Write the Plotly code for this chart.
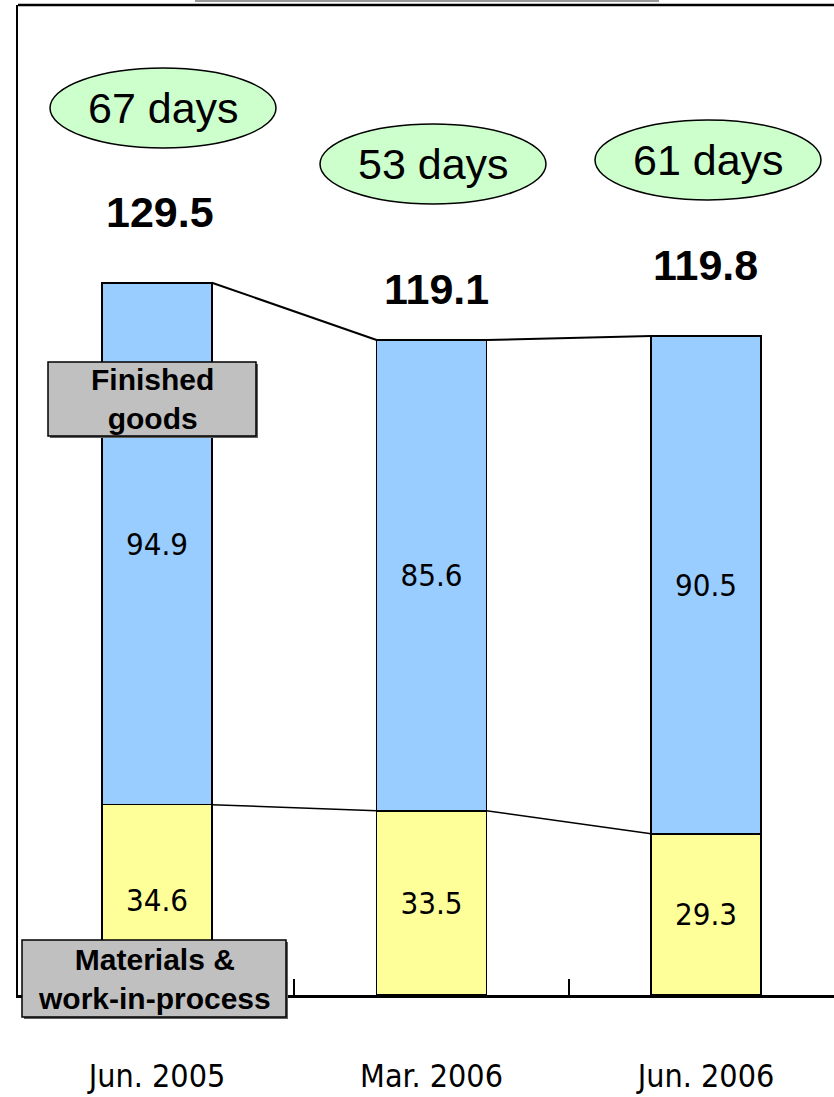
import plotly.graph_objects as go

# ---- data ----
categories = ["Jun. 2005", "Mar. 2006", "Jun. 2006"]
materials_wip = [34.6, 33.5, 29.3]
finished_goods = [94.9, 85.6, 90.5]
totals = [129.5, 119.1, 119.8]
days_labels = ["67 days", "53 days", "61 days"]

W, H = 834, 1097
ML, MR, MT, MB = 18, 0, 5, 102
PW, PH = W - ML - MR, H - MT - MB

def PX(px):
    return (px - ML) / PW

def PY(py):
    return (H - MB - py) / PH

xs = list(range(len(categories)))
narrow = "Liberation Sans Narrow, Arial Narrow, DejaVu Sans Condensed, sans-serif"
sans = "Liberation Sans, Arial, sans-serif"

fig = go.Figure()
fig.add_trace(go.Bar(
    x=xs, y=materials_wip, width=0.4,
    marker=dict(color="#FFFF99", line=dict(color="black", width=1.5)),
    text=[f"{v:.1f}" for v in materials_wip], textposition="inside",
    insidetextanchor="middle", textangle=0,
    textfont=dict(family=narrow, size=31, color="black"),
    hoverinfo="skip", showlegend=False))
fig.add_trace(go.Bar(
    x=xs, y=finished_goods, width=0.4,
    marker=dict(color="#99CCFF", line=dict(color="black", width=1.5)),
    text=[f"{v:.1f}" for v in finished_goods], textposition="inside",
    insidetextanchor="middle", textangle=0,
    textfont=dict(family=narrow, size=31, color="black"),
    hoverinfo="skip", showlegend=False))

# connector lines between bars
for i in range(len(xs) - 1):
    fig.add_trace(go.Scatter(x=[xs[i] + 0.2, xs[i + 1] - 0.2], y=[totals[i], totals[i + 1]],
                             mode="lines", line=dict(color="black", width=2),
                             hoverinfo="skip", showlegend=False))
    fig.add_trace(go.Scatter(x=[xs[i] + 0.2, xs[i + 1] - 0.2], y=[materials_wip[i], materials_wip[i + 1]],
                             mode="lines", line=dict(color="black", width=1.5),
                             hoverinfo="skip", showlegend=False))

shapes = []
annotations = []

# ellipses with days
ellipses = [(50, 68, 276, 148), (320, 124, 546, 204), (595, 120, 821, 200)]
for (x0, y0, x1, y1), lab in zip(ellipses, days_labels):
    shapes.append(dict(type="circle", xref="paper", yref="paper",
                       x0=PX(x0), x1=PX(x1), y0=PY(y1), y1=PY(y0),
                       fillcolor="#CCFFCC", line=dict(color="black", width=1.5)))
    annotations.append(dict(xref="paper", yref="paper", x=PX((x0 + x1) / 2), y=PY((y0 + y1) / 2),
                            text=lab, showarrow=False, xanchor="center", yanchor="middle",
                            font=dict(family=sans, size=43, color="black")))

# totals
total_pos = [(160, 212), (437, 289), (705, 265)]
for (px, py), t in zip(total_pos, totals):
    annotations.append(dict(xref="paper", yref="paper", x=PX(px), y=PY(py),
                            text=f"<b>{t:.1f}</b>", showarrow=False, xanchor="center", yanchor="middle",
                            font=dict(family=sans, size=43, color="black")))

# gray label boxes
boxes = [((48, 362, 256, 436), "Finished<br>goods", 30),
         ((22, 940, 286, 1017), "Materials &<br>work-in-process", 30)]
for (x0, y0, x1, y1), lab, fs in boxes:
    shapes.append(dict(type="rect", xref="paper", yref="paper",
                       x0=PX(x0 + 2), x1=PX(x1 + 2), y0=PY(y1 + 2), y1=PY(y0 + 2),
                       fillcolor="#606060", line=dict(width=0), layer="above"))
    shapes.append(dict(type="rect", xref="paper", yref="paper",
                       x0=PX(x0), x1=PX(x1), y0=PY(y1), y1=PY(y0),
                       fillcolor="#C0C0C0", line=dict(color="black", width=1.5), layer="above"))
    annotations.append(dict(xref="paper", yref="paper", x=PX((x0 + x1) / 2), y=PY((y0 + y1) / 2),
                            text=f"<b>{lab}</b>", showarrow=False, xanchor="center", yanchor="middle",
                            font=dict(family=sans, size=fs, color="black")))

# top frame line and clipped title box
shapes.append(dict(type="line", xref="paper", yref="paper", x0=0, x1=1, y0=1, y1=1,
                   line=dict(color="black", width=2.5)))
shapes.append(dict(type="rect", xref="paper", yref="paper",
                   x0=PX(196), x1=PX(658), y0=PY(1), y1=PY(-30),
                   fillcolor="white", line=dict(color="#999999", width=2)))

fig.update_layout(
    width=W, height=H, barmode="stack",
    margin=dict(l=ML, r=MR, t=MT, b=MB),
    paper_bgcolor="white", plot_bgcolor="white",
    shapes=shapes, annotations=annotations,
    xaxis=dict(range=[(ML - 157) / 274.5, (W - 157) / 274.5],
               tickvals=xs, ticktext=categories, ticks="",
               tickfont=dict(family=narrow, size=32, color="black"),
               ticklabelstandoff=51,
               showline=True, linecolor="black", linewidth=3,
               showgrid=False, zeroline=False,
               minor=dict(tickvals=[0.5, 1.5], ticks="inside", ticklen=16,
                          tickcolor="black", tickwidth=1.5, showgrid=False)),
    yaxis=dict(range=[0, 180], showticklabels=False, ticks="",
               showline=True, linecolor="black", linewidth=2,
               showgrid=False, zeroline=False),
)

fig.write_html("out.html", config={"displayModeBar": False},
               post_script="document.body.style.margin='0px';document.body.style.overflow='hidden';")
